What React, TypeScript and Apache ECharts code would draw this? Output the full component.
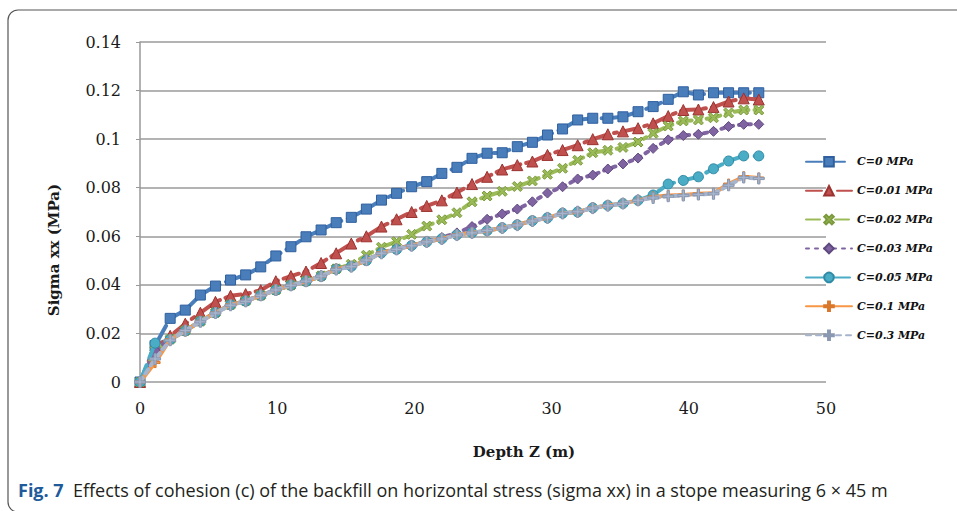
import React, { useEffect, useRef } from "react";
import * as echarts from "echarts";

const depth = [0, 1.1, 2.2, 3.3, 4.4, 5.5, 6.6, 7.7, 8.8, 9.9, 11, 12.1, 13.2, 14.3, 15.4, 16.5, 17.6, 18.7, 19.8, 20.9, 22, 23.1, 24.2, 25.3, 26.4, 27.5, 28.6, 29.7, 30.8, 31.9, 33, 34.1, 35.2, 36.3, 37.4, 38.5, 39.6, 40.7, 41.8, 42.9, 44, 45.1];

const c0 = [0, 0.015, 0.0262, 0.0296, 0.0358, 0.0395, 0.042, 0.0441, 0.0474, 0.0519, 0.0557, 0.0598, 0.0626, 0.0656, 0.0678, 0.0712, 0.0749, 0.0777, 0.0804, 0.0825, 0.0859, 0.0884, 0.0921, 0.0942, 0.0944, 0.0969, 0.0987, 0.1017, 0.1042, 0.1079, 0.1086, 0.1086, 0.1092, 0.1113, 0.1134, 0.1164, 0.1195, 0.1182, 0.1191, 0.1191, 0.1191, 0.1191];
const c001 = [0, 0.014, 0.019, 0.024, 0.0285, 0.033, 0.0355, 0.0362, 0.0378, 0.0415, 0.0436, 0.0455, 0.049, 0.053, 0.057, 0.06, 0.064, 0.067, 0.07, 0.0725, 0.0748, 0.078, 0.0815, 0.0845, 0.0875, 0.0893, 0.0908, 0.0935, 0.0955, 0.0975, 0.1, 0.102, 0.1032, 0.1045, 0.1065, 0.1095, 0.112, 0.1122, 0.1132, 0.1155, 0.1168, 0.1163];
const c002 = [0, 0.013, 0.0176, 0.0212, 0.025, 0.0286, 0.0318, 0.0334, 0.0357, 0.0379, 0.0399, 0.0416, 0.0437, 0.0466, 0.0485, 0.0522, 0.0555, 0.0578, 0.0608, 0.0642, 0.0668, 0.0697, 0.0742, 0.0766, 0.0785, 0.0805, 0.0828, 0.0855, 0.088, 0.0913, 0.0944, 0.0954, 0.0966, 0.0988, 0.1024, 0.1054, 0.1075, 0.1079, 0.1088, 0.1108, 0.112, 0.112];
const c003 = [0, 0.013, 0.0176, 0.0211, 0.0251, 0.0286, 0.0319, 0.0334, 0.0357, 0.0379, 0.0399, 0.0415, 0.0436, 0.0466, 0.0477, 0.0502, 0.0533, 0.0548, 0.0564, 0.0579, 0.0595, 0.0614, 0.064, 0.067, 0.0692, 0.0712, 0.0742, 0.0778, 0.0804, 0.0836, 0.0852, 0.0877, 0.0898, 0.0922, 0.0962, 0.0997, 0.1015, 0.102, 0.1032, 0.1052, 0.1061, 0.1061];
const c005 = [0, 0.016, 0.0175, 0.021, 0.025, 0.0285, 0.0318, 0.0333, 0.0356, 0.0378, 0.0398, 0.0414, 0.0435, 0.0465, 0.0476, 0.05, 0.0532, 0.0546, 0.0562, 0.0577, 0.059, 0.0606, 0.0615, 0.0623, 0.0635, 0.0647, 0.0664, 0.0676, 0.0695, 0.07, 0.0717, 0.0727, 0.0735, 0.0748, 0.077, 0.0815, 0.083, 0.0845, 0.0878, 0.091, 0.0931, 0.0931];
const c01 = [0, 0.008, 0.0175, 0.021, 0.025, 0.0285, 0.0318, 0.0333, 0.0356, 0.0378, 0.0398, 0.0414, 0.0435, 0.0465, 0.0476, 0.05, 0.0532, 0.0546, 0.0562, 0.0577, 0.059, 0.0606, 0.0615, 0.0623, 0.0635, 0.0647, 0.0664, 0.0676, 0.0695, 0.07, 0.0717, 0.0727, 0.0735, 0.0748, 0.0762, 0.0768, 0.077, 0.0775, 0.0777, 0.0815, 0.0845, 0.084];
const c03 = [0, 0.0095, 0.0172, 0.0212, 0.0248, 0.0284, 0.0316, 0.0332, 0.0357, 0.0379, 0.0398, 0.0415, 0.0436, 0.0463, 0.0475, 0.0502, 0.053, 0.0546, 0.0561, 0.0577, 0.0589, 0.0605, 0.0614, 0.0624, 0.0634, 0.0646, 0.0663, 0.0676, 0.0694, 0.0701, 0.0716, 0.0726, 0.0735, 0.0748, 0.0758, 0.0765, 0.0768, 0.0772, 0.0775, 0.081, 0.0842, 0.0838];

const seriesNames = ["C=0 MPa", "C=0.01 MPa", "C=0.02 MPa", "C=0.03 MPa", "C=0.05 MPa", "C=0.1 MPa", "C=0.3 MPa"];
const seriesValues = [c0, c001, c002, c003, c005, c01, c03];

const xTicks = { min: 0, max: 50, interval: 10 };
const yTicks = { min: 0, max: 0.14, interval: 0.02 };

const xTitle = "Depth Z (m)";
const yTitle = "Sigma xx (MPa)";
const figLabel = "Fig. 7";
const caption = "  Effects of cohesion (c) of the backfill on horizontal stress (sigma xx) in a stope measuring 6 \u00d7 45 m";

const X_SYMBOL = "path://M2,0 L5,3 L8,0 L10,2 L7,5 L10,8 L8,10 L5,7 L2,10 L0,8 L3,5 L0,2 Z";
const PLUS_SYMBOL = "path://M4,0 H6 V4 H10 V6 H6 V10 H4 V6 H0 V4 H4 Z";

const styles = [
  { color: "#4a7ebb", border: "#2f5f9e", symbol: "rect", size: 10, dash: [16, 7] as any },
  { color: "#c0504d", border: "#9b3330", symbol: "triangle", size: 11, dash: [16, 6, 3, 6] as any },
  { color: "#9bbb59", border: "#7a9a3c", symbol: X_SYMBOL, size: 10, dash: [14, 6, 3, 6] as any },
  { color: "#8064a2", border: "#5f4a80", symbol: "diamond", size: 10, dash: [3, 6] as any },
  { color: "#4bacc6", border: "#2f8aa5", symbol: "circle", size: 10, dash: [18, 8] as any },
  { color: "#f79646", border: "#d9782b", symbol: PLUS_SYMBOL, size: 10, dash: "solid" as any },
  { color: "#a6b4cc", border: "#8a98b2", symbol: PLUS_SYMBOL, size: 11, dash: [5, 5] as any },
];

export default function App() {
  const ref = useRef<HTMLDivElement>(null);
  useEffect(() => {
    if (!ref.current) return;
    const chart = echarts.init(ref.current, undefined, { renderer: "svg" });
    const series = seriesNames.map((name, i) => ({
      name,
      type: "line",
      data: depth.map((d, k) => [d, seriesValues[i][k]]),
      symbol: styles[i].symbol,
      symbolSize: styles[i].size,
      showAllSymbol: true,
      lineStyle: { color: styles[i].color, width: 4, type: styles[i].dash, cap: "round" },
      itemStyle: { color: styles[i].color, borderColor: styles[i].border, borderWidth: 1 },
      z: 2 + i,
    }));
    chart.setOption({
      animation: false,
      backgroundColor: "#ffffff",
      grid: { left: 140, right: 131, top: 42, bottom: 129, containLabel: false },
      xAxis: {
        type: "value",
        min: xTicks.min,
        max: xTicks.max,
        interval: xTicks.interval,
        axisLine: { show: false },
        axisTick: { show: false },
        splitLine: { show: false },
        axisLabel: { fontFamily: "DejaVu Serif", fontSize: 16, color: "#1a1a1a", margin: 18 },
      },
      yAxis: {
        type: "value",
        min: yTicks.min,
        max: yTicks.max,
        interval: yTicks.interval,
        axisLine: { show: true, lineStyle: { color: "#999999", width: 1.5 } },
        axisTick: { show: true, length: 4, lineStyle: { color: "#999999" } },
        splitLine: { show: true, lineStyle: { color: "#9a9a9a", width: 1.6 } },
        axisLabel: { fontFamily: "DejaVu Serif", fontSize: 16, color: "#1a1a1a", margin: 19 },
      },
      legend: {
        orient: "vertical",
        left: 800,
        top: 151,
        itemWidth: 46,
        itemHeight: 12,
        itemGap: 17.3,
        textStyle: { fontFamily: "DejaVu Serif", fontStyle: "italic", fontWeight: "bold", fontSize: 11, color: "#111111" },
        data: seriesNames,
      },
      graphic: [
        {
          type: "rect",
          shape: { x: 8, y: 10, width: 1000, height: 502, r: 10 },
          style: { fill: "none", stroke: "#555555", lineWidth: 1.2 },
          silent: true,
          z: -1,
        },
        {
          type: "text",
          x: 54,
          y: 250,
          rotation: Math.PI / 2,
          style: { text: yTitle, fontFamily: "DejaVu Serif", fontWeight: "bold", fontSize: 15, fill: "#1a1a1a", align: "center", verticalAlign: "middle" },
        },
        {
          type: "text",
          x: 524,
          y: 452,
          style: { text: xTitle, fontFamily: "DejaVu Serif", fontWeight: "bold", fontSize: 15, fill: "#1a1a1a", align: "center", verticalAlign: "middle" },
        },
        {
          type: "text",
          x: 18,
          y: 490,
          style: {
            text: "{a|" + figLabel + "}{b|" + caption + "}",
            verticalAlign: "middle",
            rich: {
              a: { fontFamily: "Open Sans", fontWeight: "bold", fontSize: 18, fill: "#1f5a9a" },
              b: { fontFamily: "Open Sans", fontSize: 18, fill: "#231f20" },
            },
          },
        },
      ],
      series,
    });
    return () => chart.dispose();
  }, []);
  return <div ref={ref} style={{ width: 957, height: 511, position: "absolute", left: 0, top: 0 }} />;
}
